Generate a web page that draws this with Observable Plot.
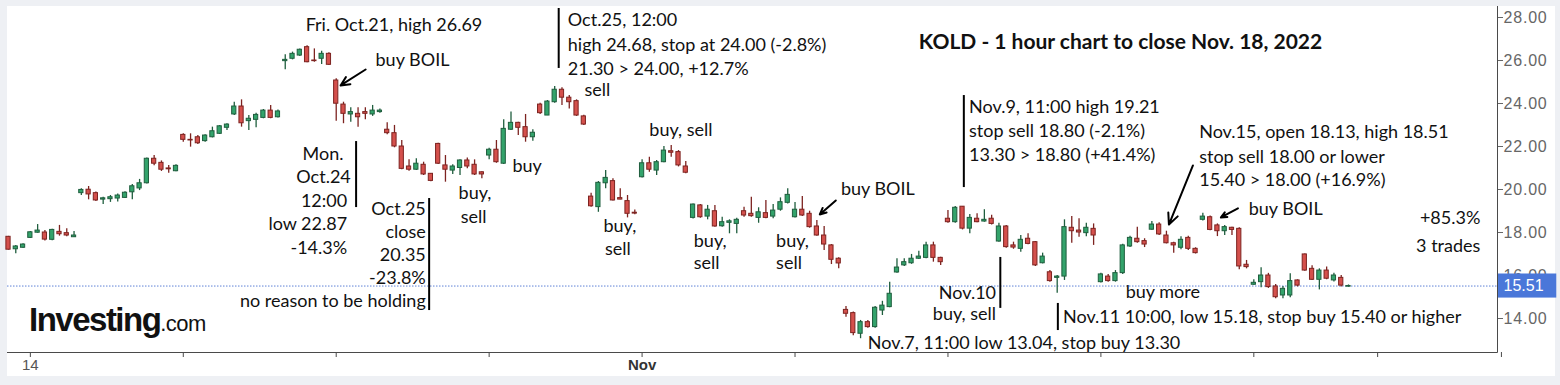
<!DOCTYPE html>
<html><head><meta charset="utf-8">
<script src="https://cdn.jsdelivr.net/npm/d3@7"></script>
<script src="https://cdn.jsdelivr.net/npm/@observablehq/plot@0.6"></script>
<style>
html,body{margin:0;padding:0;background:#eef0f4;}
#wrap{position:relative;width:1560px;height:385px;overflow:hidden;}
#panel{position:absolute;left:7px;top:6px;width:1548px;height:370px;background:#fff;}
#chart{position:absolute;left:0;top:0;width:1560px;height:385px;}
#logo{position:absolute;left:29px;top:301px;font-family:"Liberation Sans",Arial,sans-serif;color:#111;white-space:nowrap;line-height:normal;}
#logo .b{font-weight:bold;font-size:33px;letter-spacing:-1.5px;}
#logo .c{font-size:22px;letter-spacing:-0.6px;}
g[aria-label="y-axis tick label"] text{letter-spacing:0.8px;}
</style></head><body>
<div id="wrap"><div id="panel"></div><div id="chart"></div><div id="logo"><span class="b">Investing</span><span class="c">.com</span></div></div>
<script>
// Hourly candles, Oct 13 (last 3 bars) .. Nov 18, 2022 (7 bars per session)
const open = [17.80,17.22,17.29,17.75,17.99,18.00,17.66,18.03,17.97,17.78,
19.83,19.99,19.83,19.53,19.55,19.58,19.61,19.87,20.05,20.29,
21.43,21.24,20.98,20.85,22.54,22.31,22.43,22.25,22.43,22.59,
22.87,23.49,23.86,23.18,23.24,23.33,23.67,23.36,25.97,26.08,
26.23,26.62,26.00,26.08,26.31,25.07,23.95,23.49,23.52,23.60,
23.49,23.60,22.78,22.62,22.00,21.07,20.92,21.15,20.73,22.12,
21.12,20.88,21.00,21.35,21.15,20.80,21.58,21.85,21.20,22.78,
23.10,22.90,22.43,23.95,23.44,24.06,24.64,24.27,24.11,23.40,
19.67,19.18,20.29,20.39,19.60,19.46,18.92,20.57,21.22,20.88,
21.27,21.78,21.74,21.07,18.68,19.26,18.74,18.99,18.29,18.45,
18.40,18.99,18.87,18.68,18.90,18.74,19.06,19.38,18.71,19.06,
18.87,18.28,17.86,17.40,16.78,14.40,14.25,13.29,13.83,13.60,
14.37,14.53,16.14,16.47,16.57,16.78,16.82,17.40,16.82,18.64,
18.48,19.20,18.18,18.64,18.51,18.64,17.58,18.28,17.40,17.24,
17.71,17.55,16.57,16.15,15.89,15.95,18.22,18.09,17.97,18.17,
15.69,15.95,15.74,16.11,17.35,17.71,17.60,18.13,18.37,17.86,
17.50,17.29,17.75,17.24,18.59,18.71,18.33,18.06,18.22,18.17,
16.50,15.57,15.69,16.00,15.49,15.07,15.07,15.77,16.98,16.31,
15.80,16.23,15.77,15.89,15.48];
const high = [17.82,17.40,17.48,18.05,18.37,18.09,18.15,18.33,18.18,18.05,
20.03,20.14,19.88,19.64,19.72,19.79,19.90,20.23,20.47,21.47,
21.58,21.33,21.12,21.15,22.59,22.59,22.51,22.55,22.90,22.98,
23.06,24.06,24.17,23.44,23.55,23.72,23.91,23.70,26.27,26.39,
26.54,26.69,26.54,26.43,26.36,25.15,24.06,23.80,23.80,23.80,
23.91,23.75,23.10,22.98,22.28,21.38,21.43,21.27,20.75,22.15,
21.58,21.15,21.38,21.47,21.38,20.82,21.92,22.28,23.24,23.60,
23.13,23.49,22.78,24.01,24.14,24.79,24.73,24.37,24.17,23.45,
19.83,20.37,20.88,20.50,20.03,19.72,19.05,21.38,21.50,21.35,
22.00,22.05,21.81,21.30,19.33,19.30,19.26,19.26,18.71,18.59,
18.66,19.18,19.64,19.15,19.49,19.30,19.61,20.03,19.40,19.67,
18.99,18.56,18.28,17.44,16.82,14.56,14.30,13.91,13.91,14.56,
14.80,15.69,16.78,16.78,16.98,17.13,17.55,17.55,16.85,19.02,
19.21,19.21,18.84,18.87,19.06,18.80,18.43,18.33,17.55,17.86,
17.94,17.58,17.04,16.23,16.00,18.59,18.74,18.64,18.43,18.40,
16.10,16.05,16.23,17.45,17.83,18.25,17.71,18.51,18.45,18.06,
17.55,17.80,17.83,17.29,18.90,18.77,18.40,18.33,18.25,18.22,
16.70,15.80,16.36,16.10,15.58,15.49,16.08,15.80,17.00,16.45,
16.31,16.40,16.10,16.00,15.56];
const low = [17.18,17.01,17.27,17.72,17.97,17.60,17.62,17.83,17.80,17.77,
19.72,19.52,19.44,19.30,19.40,19.42,19.58,19.52,19.95,20.26,
21.10,20.84,20.76,20.82,22.20,21.97,22.09,22.20,22.40,22.56,
22.74,23.44,22.90,22.74,22.87,23.29,23.29,23.33,25.57,26.03,
26.19,25.89,25.92,25.81,25.77,23.18,23.06,23.13,22.90,23.24,
23.40,23.55,22.55,21.94,20.92,20.85,20.88,20.65,20.36,21.16,
20.34,20.70,20.65,20.96,20.65,20.50,21.38,21.22,21.16,22.74,
22.51,22.20,22.25,23.49,23.44,24.01,23.91,23.75,23.40,22.98,
19.18,18.94,20.03,19.47,19.52,18.68,18.82,20.54,20.80,20.65,
21.25,21.50,21.05,20.73,18.63,18.66,18.59,18.25,18.25,17.94,
17.94,18.71,18.71,18.43,18.64,18.64,18.99,19.33,18.68,18.74,
18.20,17.82,17.16,16.51,16.31,14.06,13.20,13.06,13.55,13.55,
14.14,14.50,16.10,16.42,16.52,16.74,16.78,16.62,16.47,18.43,
18.43,18.12,17.94,18.45,18.48,18.35,17.55,17.27,17.22,17.08,
17.43,16.42,16.54,15.69,15.18,15.77,17.50,17.78,17.80,17.40,
15.65,15.69,15.69,16.05,17.30,17.50,17.30,18.10,17.86,17.47,
17.04,17.20,17.16,17.00,18.53,18.08,17.81,17.86,17.86,16.27,
16.31,15.55,15.43,15.40,14.92,14.92,14.96,15.47,16.20,15.77,
15.33,15.80,15.70,15.46,15.46];
const close = [17.20,17.35,17.44,18.01,18.09,17.67,18.12,17.92,17.86,17.86,
19.98,19.77,19.49,19.59,19.64,19.72,19.85,20.15,20.29,21.43,
21.20,20.92,20.94,21.10,22.31,22.28,22.15,22.51,22.71,22.94,
23.02,23.86,23.08,23.29,23.47,23.67,23.33,23.63,26.03,26.31,
26.50,25.92,25.97,26.31,25.80,23.99,23.52,23.60,23.36,23.52,
23.67,23.67,22.62,22.00,20.96,20.92,21.20,20.70,20.40,21.20,
20.92,21.07,21.35,21.07,20.70,20.70,21.85,21.27,22.82,23.10,
22.87,22.43,22.64,23.55,24.09,24.64,24.27,24.06,23.44,23.02,
19.22,20.31,20.54,19.49,19.53,18.87,18.88,21.22,20.92,21.27,
21.81,21.71,21.12,20.78,19.30,18.71,19.06,18.28,18.48,18.52,
18.59,18.79,18.76,18.94,18.68,19.02,19.41,19.75,19.06,18.79,
18.25,17.86,17.44,16.73,16.56,14.22,13.32,13.83,13.60,14.50,
14.60,15.15,16.37,16.62,16.78,16.88,17.40,16.82,16.62,18.48,
19.15,18.18,18.68,18.48,18.59,18.40,18.28,17.32,17.30,17.66,
17.47,16.47,16.88,15.74,15.95,18.25,18.06,18.00,18.22,17.86,
16.05,15.74,16.11,17.40,17.75,17.55,17.44,18.37,17.91,17.50,
17.40,17.66,17.24,17.04,18.74,18.12,18.06,18.25,18.12,16.42,
16.39,15.66,16.00,15.46,14.99,15.38,15.74,15.53,16.23,15.80,
16.23,15.85,16.00,15.53,15.51];

// axis ticks
const yTicks = [14, 16, 18, 20, 22, 24, 26, 28];
const xTicks = [3, 24, 45, 66, 87, 108, 129, 150, 171, 188, 205];
const xLabelIdx = [3, 87];
const xLabelText = ["14", "Nov"];

// annotations (anchored at bar index / price)
const noteText = ["Fri. Oct.21, high 26.69","buy BOIL","Oct.25, 12:00","high 24.68, stop at 24.00 (-2.8%)","21.30 > 24.00, +12.7%","sell",
  "buy,","sell","buy","buy, sell","buy,","sell","buy,","sell","buy,","sell","buy BOIL",
  "Nov.9, 11:00 high 19.21","stop sell 18.80 (-2.1%)","13.30 > 18.80 (+41.4%)",
  "Nov.15, open 18.13, high 18.51","stop sell 18.00 or lower","15.40 > 18.00 (+16.9%)","buy BOIL","buy more",
  "Nov.11 10:00, low 15.18, stop buy 15.40 or higher","Nov.7, 11:00 low 13.04, stop buy 13.30",
  "Mon.","Oct.24","12:00","low 22.87","-14.3%","Oct.25","close","20.35","-23.8%","no reason to be holding",
  "+85.3%","3 trades","Nov.10","buy, sell"];
const noteBar = [40.8,50.4,76.8,76.8,76.8,79.1,
  61.8,62.1,69.2,88.0,81.7,81.9,94.1,94.1,105.4,105.4,114.3,
  131.9,131.9,131.9,163.5,163.5,163.5,170.3,153.4,144.8,118.0,
  46.0,47.0,46.5,46.5,46.5,57.3,57.3,57.3,57.3,57.3,
  202.1,202.1,135.6,135.6];
const notePrice = [27.63,26.0,27.86,26.70,25.58,24.60,
  19.81,18.70,21.09,22.74,18.28,17.21,17.58,16.56,17.58,16.56,20.0,
  23.81,22.70,21.58,22.67,21.49,20.42,19.07,15.23,14.05,12.84,
  21.65,20.56,19.47,18.37,17.28,19.07,18.0,16.93,15.86,14.79,
  18.65,17.37,15.19,14.19];
const noteAlign = noteText.map((t, k) => k < 27 ? "start" : "end");

const title = "KOLD - 1 hour chart to close Nov. 18, 2022";
const titleBar = 125.0, titlePrice = 26.84;

// vertical marker lines [bar, priceTop, priceBottom]
const lineBar = [75.55, 47.73, 57.76, 131.18, 136.19, 144.09];
const lineTop = [28.42, 22.23, 19.58, 24.37, 16.84, 14.70];
const lineBot = [25.63, 19.16, 14.37, 20.09, 14.47, 13.44];

// arrows
const arrowFromBar = [49.04, 113.6, 162.64, 168.82];
const arrowFromPrice = [25.58, 19.49, 21.12, 19.12];
const arrowToBar = [45.60, 111.4, 159.34, 166.48];
const arrowToPrice = [24.84, 18.84, 18.37, 18.70];

// last-price tag span on the axis (in bar units) and half height (price units)
const tagBar = [204.6, 212.6];
const tagHalf = 0.56;

const candles = open.map((o, i) => ({i, open: o, high: high[i], low: low[i], close: close[i], up: close[i] >= o}));
const notes = noteText.map((t, k) => ({t, x: noteBar[k], y: notePrice[k], a: noteAlign[k]}));
const vlines = lineBar.map((b, k) => ({x: b, y1: lineTop[k], y2: lineBot[k]}));
const arrows = arrowFromBar.map((b, k) => ({x1: b, y1: arrowFromPrice[k], x2: arrowToBar[k], y2: arrowToPrice[k]}));
const xLabels = xLabelIdx.map((i, k) => ({i, label: xLabelText[k]}));
const lastPrice = close[close.length - 1];

const UP = "#33a36b", UPD = "#1f5e3e", DN = "#d4504c", DND = "#7d2320";
const FONT = "Lato, 'Open Sans', sans-serif";
const AXF = "'Liberation Sans', Arial, sans-serif";

function frameLines(index, scales, values, dims) {
  const {width, height, marginLeft, marginRight, marginTop, marginBottom} = dims;
  const g = d3.create("svg:g");
  const xr = width - marginRight + 0.5, yb = height - marginBottom + 0.5;
  g.append("line").attr("x1", marginLeft).attr("x2", xr).attr("y1", yb).attr("y2", yb).attr("stroke", "#4a4a4a");
  g.append("line").attr("x1", xr).attr("x2", xr).attr("y1", marginTop).attr("y2", yb).attr("stroke", "#4a4a4a");
  return g.node();
}

const chart = Plot.plot({
  width: 1560, height: 385,
  marginLeft: 7, marginRight: 63, marginTop: 6, marginBottom: 33,
  style: {background: "transparent", overflow: "visible"},
  x: {domain: [0, 184], range: [8, 1348], axis: null},
  y: {domain: [14, 28], range: [318, 17], axis: null},
  color: {type: "identity"},
  marks: [
    Plot.ruleY([lastPrice], {stroke: "#5f82d6", strokeDasharray: "1.5,1.5", strokeWidth: 1}),
    Plot.ruleX(candles, {x: "i", y1: "low", y2: "high", stroke: d => d.up ? UPD : DND, strokeWidth: 1.3}),
    Plot.rect(candles, {x1: d => d.i - 0.29, x2: d => d.i + 0.29, y1: "open", y2: "close",
      fill: d => d.up ? UP : DN, stroke: d => d.up ? UPD : DND, strokeWidth: 1}),
    frameLines,
    Plot.axisX({ticks: xTicks, tickFormat: () => "", tickSize: 5, stroke: "#4a4a4a"}),
    Plot.text(xLabels.filter(d => d.label !== "Nov"), {x: "i", text: "label", frameAnchor: "bottom", dy: 17, fontSize: 15, fontFamily: AXF, fill: "#555"}),
    Plot.text(xLabels.filter(d => d.label === "Nov"), {x: "i", text: "label", frameAnchor: "bottom", dy: 17, fontSize: 15, fontWeight: "bold", fontFamily: AXF, fill: "#333"}),
    Plot.axisY({anchor: "right", ticks: yTicks, tickFormat: d => d.toFixed(2), tickSize: 5, tickPadding: 1,
      fontSize: 16, fontFamily: AXF, color: "#666"}),
    Plot.rect([lastPrice], {x1: tagBar[0], x2: tagBar[1], y1: d => d - tagHalf, y2: d => d + tagHalf, fill: "#4a77d9"}),
    Plot.text([lastPrice], {x: tagBar[0], y: d => d, text: d => d.toFixed(2), textAnchor: "start", dx: 5,
      fill: "#ffffff", fontSize: 16, fontFamily: AXF}),
    Plot.ruleX(vlines, {x: "x", y1: "y1", y2: "y2", stroke: "#000", strokeWidth: 2}),
    Plot.arrow(arrows, {x1: "x1", y1: "y1", x2: "x2", y2: "y2", stroke: "#000", strokeWidth: 2, headLength: 9, headAngle: 50}),
    Plot.text(notes.filter(d => d.a === "start"), {x: "x", y: "y", text: "t", textAnchor: "start", fontSize: 18, fontFamily: FONT, fill: "#111"}),
    Plot.text(notes.filter(d => d.a === "end"), {x: "x", y: "y", text: "t", textAnchor: "end", fontSize: 18, fontFamily: FONT, fill: "#111"}),
    Plot.text([title], {x: titleBar, y: titlePrice, text: d => d, textAnchor: "start", fontSize: 21, fontWeight: "bold", fontFamily: FONT, fill: "#111"})
  ]
});
document.getElementById("chart").appendChild(chart);
</script>
</body></html>
